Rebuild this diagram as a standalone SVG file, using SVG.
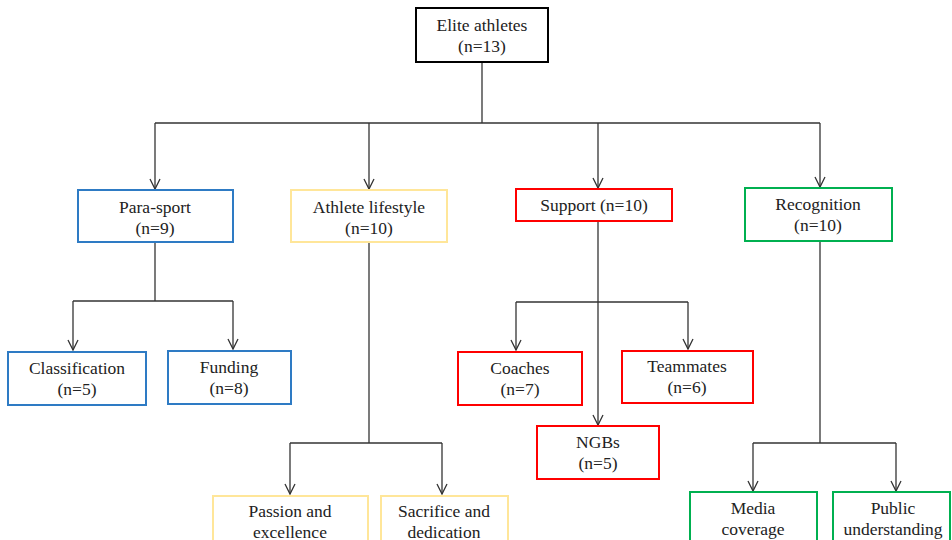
<svg xmlns="http://www.w3.org/2000/svg" width="952" height="540" viewBox="0 0 952 540">
<style>
text{font-family:"Liberation Serif","Times New Roman",serif;font-size:17.5px;fill:#222;text-anchor:middle}
rect{fill:#fff;stroke-width:2}
.k{stroke:#000}
.b{stroke:#2E7BC4}
.y{stroke:#FFE699}
.r{stroke:#FF0000}
.g{stroke:#00B050}
.c path{fill:none;stroke:#333;stroke-width:1.3}
</style>
<defs>
<marker id="a" markerUnits="userSpaceOnUse" markerWidth="14" markerHeight="14" viewBox="-12 -7 14 14" refX="0" refY="0" orient="auto">
<path d="M-10,-5 L0,0 L-10,5" fill="none" stroke="#333" stroke-width="1.3"/>
</marker>
</defs>
<g class="c">
<path d="M482,62 V123"/>
<path d="M155,123 H820"/>
<path d="M155,123 V189" marker-end="url(#a)"/>
<path d="M369,123 V189" marker-end="url(#a)"/>
<path d="M598,123 V188" marker-end="url(#a)"/>
<path d="M820,123 V187" marker-end="url(#a)"/>
<path d="M155,242 V301"/>
<path d="M73,301 H233"/>
<path d="M73,301 V350" marker-end="url(#a)"/>
<path d="M233,301 V349" marker-end="url(#a)"/>
<path d="M369,242 V443"/>
<path d="M290,443 H442"/>
<path d="M290,443 V494" marker-end="url(#a)"/>
<path d="M442,443 V494" marker-end="url(#a)"/>
<path d="M598,221 V425" marker-end="url(#a)"/>
<path d="M516,302 H688"/>
<path d="M516,302 V350" marker-end="url(#a)"/>
<path d="M688,302 V349" marker-end="url(#a)"/>
<path d="M820,241 V443"/>
<path d="M753,443 H896"/>
<path d="M753,443 V491" marker-end="url(#a)"/>
<path d="M896,443 V491" marker-end="url(#a)"/>
</g>
<g id="elite"><rect class="k" x="416" y="8" width="132" height="54"/><text x="482" y="31">Elite athletes</text><text x="482" y="52">(n=13)</text></g>
<g id="para"><rect class="b" x="78" y="190" width="155" height="52"/><text x="155" y="213">Para-sport</text><text x="155" y="234">(n=9)</text></g>
<g id="lifestyle"><rect class="y" x="291" y="190" width="156" height="52"/><text x="369" y="213">Athlete lifestyle</text><text x="369" y="234">(n=10)</text></g>
<g id="support"><rect class="r" x="516" y="189" width="156" height="32"/><text x="594" y="211">Support (n=10)</text></g>
<g id="recognition"><rect class="g" x="745" y="188" width="147" height="53"/><text x="818" y="210">Recognition</text><text x="818" y="231">(n=10)</text></g>
<g id="classification"><rect class="b" x="8" y="352" width="138" height="53"/><text x="77" y="374">Classification</text><text x="77" y="395">(n=5)</text></g>
<g id="funding"><rect class="b" x="168" y="351" width="123" height="53"/><text x="229" y="373">Funding</text><text x="229" y="394">(n=8)</text></g>
<g id="coaches"><rect class="r" x="458" y="352" width="124" height="53"/><text x="520" y="374">Coaches</text><text x="520" y="395">(n=7)</text></g>
<g id="teammates"><rect class="r" x="622" y="351" width="131" height="52"/><text x="687" y="372">Teammates</text><text x="687" y="393">(n=6)</text></g>
<g id="ngbs"><rect class="r" x="537" y="426" width="122" height="53"/><text x="598" y="448">NGBs</text><text x="598" y="469">(n=5)</text></g>
<g id="passion"><rect class="y" x="213" y="496" width="155" height="60"/><text x="290" y="517">Passion and</text><text x="290" y="538">excellence</text></g>
<g id="sacrifice"><rect class="y" x="381" y="496" width="127" height="60"/><text x="444" y="517">Sacrifice and</text><text x="444" y="538">dedication</text></g>
<g id="media"><rect class="g" x="690" y="492" width="127" height="60"/><text x="753" y="514">Media</text><text x="753" y="535">coverage</text></g>
<g id="public"><rect class="g" x="833" y="492" width="117" height="60"/><text x="893" y="514">Public</text><text x="893" y="535">understanding</text></g>
</svg>
